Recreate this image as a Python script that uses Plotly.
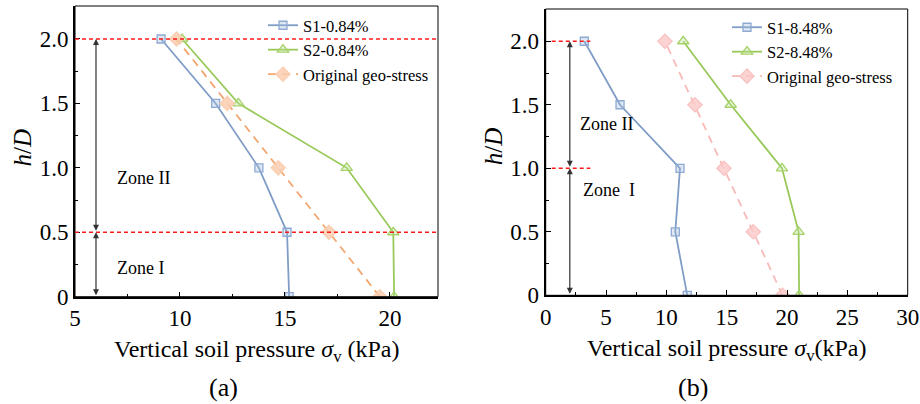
import plotly.graph_objects as go

# ---------------- data ----------------
h = [0, 0.5, 1.0, 1.5, 2.0]
y_ticks = [0, 0.5, 1.0, 1.5, 2.0]
y_ticktext = ["0", "0.5", "1.0", "1.5", "2.0"]

# panel (a)
s1_a = [15.2, 15.1, 13.76, 11.7, 9.1]
s2_a = [20.2, 20.16, 17.94, 12.78, 10.1]
geo_a = [19.52, 17.1, 14.68, 12.25, 9.84]
names_a = ["S1-0.84%", "S2-0.84%", "Original geo-stress"]
zone_bounds_a = [0.5, 2.0]

# panel (b)
s1_b = [11.73, 10.74, 11.13, 6.16, 3.2]
s2_b = [21.0, 20.96, 19.58, 15.33, 11.4]
geo_b = [19.63, 17.2, 14.77, 12.37, 9.88]
names_b = ["S1-8.48%", "S2-8.48%", "Original geo-stress"]
zone_bounds_b = [1.0, 2.0]

FONT = "Liberation Serif"
W, H = 920, 404

BLUE = "#7f9dc6"
GREEN = "#98c95a"
ORANGE = "#f2a56e"
PINK = "#f8b9b9"

fig = go.Figure()

def add_series(xs, name, color, mfill, mline, symbol, size, dash, xa, ya, legend):
    fig.add_trace(go.Scatter(
        x=xs, y=h, name=name, mode="lines+markers",
        line=dict(color=color, width=1.8, dash=dash),
        marker=dict(symbol=symbol, size=size, color=mfill,
                    line=dict(color=mline, width=1.3)),
        xaxis=xa, yaxis=ya, legend=legend))

# panel a
add_series(s1_a, names_a[0], BLUE, "rgba(160,185,220,0.35)", "#8eaad2", "square", 8, "solid", "x", "y", "legend")
add_series(s2_a, names_a[1], GREEN, "rgba(190,225,150,0.35)", "#a6d26a", "triangle-up", 10, "solid", "x", "y", "legend")
add_series(geo_a, names_a[2], ORANGE, "rgba(250,205,175,0.85)", "rgba(250,205,175,0.9)", "diamond", 11, "8px,6px", "x", "y", "legend")
# panel b
add_series(s1_b, names_b[0], BLUE, "rgba(160,185,220,0.35)", "#8eaad2", "square", 8, "solid", "x2", "y2", "legend2")
add_series(s2_b, names_b[1], GREEN, "rgba(190,225,150,0.35)", "#a6d26a", "triangle-up", 10, "solid", "x2", "y2", "legend2")
add_series(geo_b, names_b[2], PINK, "rgba(250,200,200,0.8)", "rgba(250,190,190,0.9)", "diamond", 11, "8px,6px", "x2", "y2", "legend2")

axis_common = dict(
    showline=True, linewidth=2, linecolor="black", mirror=False,
    ticks="inside", ticklen=5, tickwidth=1.2, tickcolor="black",
    showgrid=False, zeroline=False, automargin=False,
    tickfont=dict(family=FONT, size=23, color="black"),
)

fig.update_layout(
    width=W, height=H, margin=dict(l=0, r=0, t=0, b=0, autoexpand=False),
    paper_bgcolor="white", plot_bgcolor="white",
    font=dict(family=FONT, color="black"),
    xaxis=dict(domain=[75/W, 438/W], range=[5, 22.29], anchor="y",
               tickvals=[5, 10, 15, 20],
               minor=dict(ticks="inside", ticklen=3, tickvals=[7.5, 12.5, 17.5], tickcolor="black"),
               **axis_common),
    yaxis=dict(domain=[(H-296.7)/H, (H-6)/H], range=[0, 2.256], anchor="x",
               tickvals=y_ticks, ticktext=y_ticktext,
               minor=dict(ticks="inside", ticklen=3, tickvals=[0.25, 0.75, 1.25, 1.75], tickcolor="black"),
               **axis_common),
    xaxis2=dict(domain=[545.7/W, 907.7/W], range=[0, 30], anchor="y2",
                tickvals=[0, 5, 10, 15, 20, 25, 30],
                minor=dict(ticks="inside", ticklen=3, tickvals=[2.5, 7.5, 12.5, 17.5, 22.5, 27.5], tickcolor="black"),
                **axis_common),
    yaxis2=dict(domain=[(H-295.3)/H, (H-9)/H], range=[0, 2.254], anchor="x2",
                tickvals=y_ticks, ticktext=y_ticktext,
                minor=dict(ticks="inside", ticklen=3, tickvals=[0.25, 0.75, 1.25, 1.75], tickcolor="black"),
                **axis_common),
    legend=dict(x=263/W, y=(H-8)/H, xanchor="left", yanchor="top",
                bgcolor="rgba(0,0,0,0)", font=dict(family=FONT, size=16.5, color="black"),
                tracegroupgap=0, itemwidth=30),
    legend2=dict(x=727/W, y=(H-10)/H, xanchor="left", yanchor="top",
                 bgcolor="rgba(0,0,0,0)", font=dict(family=FONT, size=16.5, color="black"),
                 tracegroupgap=0, itemwidth=30),
    showlegend=True,
)

# thin frame (top/right)
for xr, yr in [("x domain", "y domain"), ("x2 domain", "y2 domain")]:
    fig.add_shape(type="rect", xref=xr, yref=yr, x0=0, x1=1, y0=0, y1=1,
                  line=dict(color="black", width=1), layer="above")

RED = dict(color="#ff1a1a", width=1.4, dash="4px,3px")
for yb in zone_bounds_a:
    fig.add_shape(type="line", xref="x domain", yref="y", x0=0, x1=1, y0=yb, y1=yb, line=RED)
for yb in zone_bounds_b:
    fig.add_shape(type="line", xref="x2", yref="y2", x0=0.5, x1=3.7, y0=yb, y1=yb, line=RED)

def darrow(xa, ya, xv, y0, y1):
    fig.add_annotation(x=xv, y=y1, ax=xv, ay=y0, xref=xa, yref=ya, axref=xa, ayref=ya,
                       text="", showarrow=True, arrowhead=2, startarrowhead=2,
                       arrowside="end+start", arrowsize=1, startarrowsize=1,
                       arrowwidth=1.2, arrowcolor="#333333")

darrow("x", "y", 6, 0, zone_bounds_a[0])
darrow("x", "y", 6, zone_bounds_a[0], zone_bounds_a[1])
darrow("x2", "y2", 2, 0, zone_bounds_b[0])
darrow("x2", "y2", 2, zone_bounds_b[0], zone_bounds_b[1])

ZF = dict(family=FONT, size=18, color="black")
fig.add_annotation(x=6.9, y=0.92, xref="x", yref="y", text="Zone II", showarrow=False, xanchor="left", font=ZF)
fig.add_annotation(x=6.9, y=0.22, xref="x", yref="y", text="Zone I", showarrow=False, xanchor="left", font=ZF)
fig.add_annotation(x=2.68, y=1.35, xref="x2", yref="y2", text="Zone II", showarrow=False, xanchor="left", font=ZF)
fig.add_annotation(x=2.9, y=0.83, xref="x2", yref="y2", text="Zone\u00a0\u00a0I", showarrow=False, xanchor="left", font=ZF)

def ptext(px, py, text, size, angle=0):
    fig.add_annotation(x=px/W, y=(H-py)/H, xref="paper", yref="paper", showarrow=False,
                       xanchor="center", yanchor="middle",
                       font=dict(family=FONT, size=size, color="black"),
                       text=text, textangle=angle)

ptext(257, 351, "Vertical soil pressure <i>σ</i><sub>v</sub> (kPa)", 24)
ptext(727, 350, "Vertical soil pressure <i>σ</i><sub>v</sub>(kPa)", 24)
ptext(223, 387, "(a)", 26)
ptext(692.5, 387, "(b)", 26)
ptext(22, 147.5, "<i>h</i>/<i>D</i>", 25, -90)
ptext(493.5, 146.7, "<i>h</i>/<i>D</i>", 25, -90)

fig.write_html("out.html")
